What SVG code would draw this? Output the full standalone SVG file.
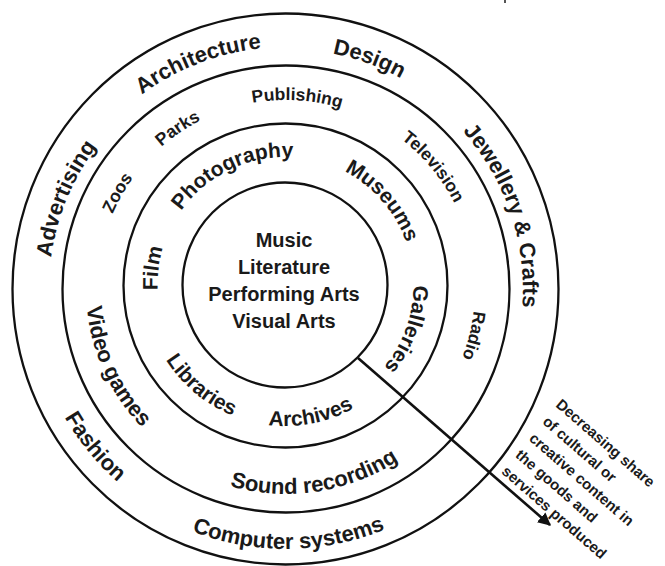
<svg xmlns="http://www.w3.org/2000/svg" xmlns:xlink="http://www.w3.org/1999/xlink" width="665" height="566" viewBox="0 0 665 566">
<style>
.ring{fill:none;stroke:#111;stroke-width:2.3}
text{font-family:"Liberation Sans",Arial,sans-serif;font-weight:bold;fill:#1a1a1a}
.o{font-size:22px}
.m{font-size:17.5px}
.mb{font-size:22px}
.i{font-size:21px}
.c{font-size:20px;text-anchor:middle}
.n{font-size:15px}
.arrow{fill:none;stroke:#111;stroke-width:2.6}
</style>
<defs>
<path id="t242" d="M 44,289 A 242 242 0 0 1 528,289"/>
<path id="t240" d="M 46,289 A 240 240 0 0 1 526,289"/>
<path id="t237" d="M 49,289 A 237 237 0 0 1 523,289"/>
<path id="b256" d="M 30,289 A 256 256 0 0 0 542,289"/>
<path id="b260" d="M 26,289 A 260 260 0 0 0 546,289"/>
<path id="t189" d="M 97,289 A 189 189 0 0 1 475,289"/>
<path id="b200" d="M 86,289 A 200 200 0 0 0 486,289"/>
<path id="b205" d="M 81,289 A 205 205 0 0 0 491,289"/>
<path id="t128" d="M 157.5,285 A 128 128 0 0 1 413.5,285"/>
<path id="b141" d="M 144.5,285 A 141 141 0 0 0 426.5,285"/>
<marker id="ah" viewBox="0 0 10 10" refX="9" refY="5" markerWidth="5" markerHeight="5" markerUnits="strokeWidth" orient="auto">
<path d="M0,0 L10,5 L0,10 Z" fill="#111"/>
</marker>
</defs>
<rect width="665" height="566" fill="#fff"/>
<rect x="504" y="0" width="2" height="3" fill="#555"/>
<g id="ring-outer"><ellipse class="ring" cx="285.5" cy="289" rx="273" ry="275.5"/></g>
<g id="ring-2"><circle class="ring" cx="286" cy="289" r="223.5"/></g>
<g id="ring-3"><circle class="ring" cx="285.5" cy="285.5" r="162"/></g>
<g id="ring-core"><circle class="ring" cx="285" cy="285" r="102.5"/></g>
<g id="connectors">
<line class="arrow" x1="358" y1="358" x2="550" y2="525" marker-end="url(#ah)"/>
</g>
<g id="core-text">
<text class="c" x="284" y="247">Music</text>
<text class="c" x="284" y="274">Literature</text>
<text class="c" x="284" y="301">Performing Arts</text>
<text class="c" x="284" y="328">Visual Arts</text>
</g>
<g id="l-architecture"><text class="o" transform="rotate(-21.2 286 289)"><textPath xlink:href="#t242" startOffset="50%" text-anchor="middle">Architecture</textPath></text></g>
<g id="l-design"><text class="o" transform="rotate(19.9 286 289)"><textPath xlink:href="#t240" startOffset="50%" text-anchor="middle">Design</textPath></text></g>
<g id="l-advertising"><text class="o" transform="rotate(-67.7 286 289)"><textPath xlink:href="#t237" startOffset="50%" text-anchor="middle">Advertising</textPath></text></g>
<g id="l-jewellery"><text class="o" transform="rotate(71.3 286 289)"><textPath xlink:href="#t237" startOffset="50%" text-anchor="middle">Jewellery &amp; Crafts</textPath></text></g>
<g id="l-fashion"><text class="o" transform="rotate(50.5 286 289)"><textPath xlink:href="#b256" startOffset="50%" text-anchor="middle">Fashion</textPath></text></g>
<g id="l-computer"><text class="o" transform="rotate(-0.6 286 289)"><textPath xlink:href="#b260" startOffset="50%" text-anchor="middle">Computer systems</textPath></text></g>
<g id="l-publishing"><text class="m" transform="rotate(3.4 286 289)"><textPath xlink:href="#t189" startOffset="50%" text-anchor="middle">Publishing</textPath></text></g>
<g id="l-parks"><text class="m" transform="rotate(-34 286 289)"><textPath xlink:href="#t189" startOffset="50%" text-anchor="middle">Parks</textPath></text></g>
<g id="l-zoos"><text class="m" transform="rotate(-60.3 286 289)"><textPath xlink:href="#t189" startOffset="50%" text-anchor="middle">Zoos</textPath></text></g>
<g id="l-television"><text class="m" transform="rotate(50.3 286 289)"><textPath xlink:href="#t189" startOffset="50%" text-anchor="middle">Television</textPath></text></g>
<g id="l-radio"><text class="m" transform="rotate(104 286 289)"><textPath xlink:href="#t189" startOffset="50%" text-anchor="middle">Radio</textPath></text></g>
<g id="l-videogames"><text class="mb" transform="rotate(65.5 286 289)"><textPath xlink:href="#b200" startOffset="50%" text-anchor="middle">Video games</textPath></text></g>
<g id="l-sound"><text class="mb" transform="rotate(-8.7 286 289)"><textPath xlink:href="#b205" startOffset="50%" text-anchor="middle">Sound recording</textPath></text></g>
<g id="l-photography"><text class="i" transform="rotate(-25.6 285.5 285)"><textPath xlink:href="#t128" startOffset="50%" text-anchor="middle">Photography</textPath></text></g>
<g id="l-museums"><text class="i" transform="rotate(49 285.5 285)"><textPath xlink:href="#t128" startOffset="50%" text-anchor="middle">Museums</textPath></text></g>
<g id="l-film"><text class="i" transform="rotate(-82.7 285.5 285)"><textPath xlink:href="#t128" startOffset="50%" text-anchor="middle">Film</textPath></text></g>
<g id="l-galleries"><text class="i" transform="rotate(110 285.5 285)"><textPath xlink:href="#t128" startOffset="50%" text-anchor="middle">Galleries</textPath></text></g>
<g id="l-libraries"><text class="i" transform="rotate(40 285.5 285)"><textPath xlink:href="#b141" startOffset="50%" text-anchor="middle">Libraries</textPath></text></g>
<g id="l-archives"><text class="i" transform="rotate(-11 285.5 285)"><textPath xlink:href="#b141" startOffset="50%" text-anchor="middle">Archives</textPath></text></g>
<g id="arrow-label">
<text class="n" transform="translate(555 406) rotate(41)">
<tspan x="0" y="0">Decreasing share</tspan>
<tspan x="1" y="21.5">of cultural or</tspan>
<tspan x="2" y="43">creative content in</tspan>
<tspan x="2.5" y="64.5">the goods and</tspan>
<tspan x="3" y="86">services produced</tspan>
</text>
</g>
</svg>
